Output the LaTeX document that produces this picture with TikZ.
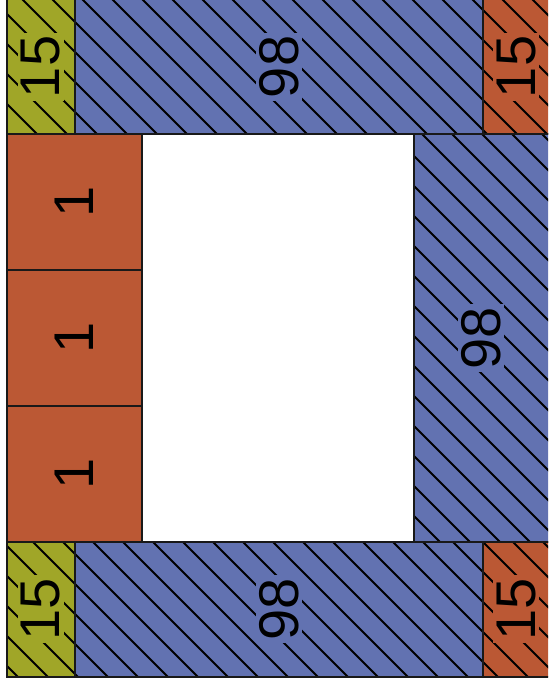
\documentclass[tikz,border=0pt]{standalone}
\usepackage{fontspec}
\setmainfont{Liberation Sans}
\definecolor{cblue}{RGB}{98,114,177}
\definecolor{colive}{RGB}{160,166,40}
\definecolor{corange}{RGB}{187,88,52}
\newcommand\hregion[6]{%
  \fill[#5] (#1,#2) rectangle (#3,#4);
  \begin{scope}
    \clip (#1,#2) rectangle (#3,#4);
    \foreach \hc in {0,30,...,1290} \draw[hatchline] (\hc+#6-700,700) -- (\hc+#6+10,-10);
  \end{scope}
  \draw[edge] (#1,#2) rectangle (#3,#4);}
\newcommand\pregion[5]{%
  \fill[#5] (#1,#2) rectangle (#3,#4);
  \draw[edge] (#1,#2) rectangle (#3,#4);}
\begin{document}
\begin{tikzpicture}[x=1pt,y=1pt,
  edge/.style={draw=black!90, line width=2pt},
  hatchline/.style={black, line width=2pt},
  num/.style={rotate=90, font=\fontsize{56}{60}\selectfont, inner sep=3pt}]
\useasboundingbox (0,0) rectangle (548,684);
\clip (0,0) rectangle (548,684);
% top row
\hregion{7}{550}{75}{700}{colive}{17}
\hregion{75}{550}{483}{700}{cblue}{17}
\hregion{483}{550}{560}{700}{corange}{17}
% middle
\pregion{7}{414}{142}{550}{corange}
\pregion{7}{278}{142}{414}{corange}
\pregion{7}{142}{142}{278}{corange}
\pregion{142}{142}{414}{550}{white}
\hregion{414}{142}{560}{550}{cblue}{12}
% bottom row
\hregion{7}{7}{75}{142}{colive}{25}
\hregion{75}{7}{483}{142}{cblue}{25}
\hregion{483}{7}{560}{142}{corange}{25}
% labels
\node[num, fill=colive]  (t15a) at (41,617) {15};
\node[num, fill=cblue]   (t98)  at (279,617) {98};
\node[num, fill=corange] (t15b) at (516,617) {15};
\node[num, fill=corange] (c1) at (74.5,482) {1};
\node[num, fill=corange] (c2) at (74.5,346) {1};
\node[num, fill=corange] (c3) at (74.5,210) {1};
\node[num, fill=cblue]   (r98) at (481,346) {98};
\node[num, fill=colive]  (b15a) at (41,75) {15};
\node[num, fill=cblue]   (b98)  at (279,75) {98};
\node[num, fill=corange] (b15b) at (516,75) {15};
\end{tikzpicture}
\end{document}
